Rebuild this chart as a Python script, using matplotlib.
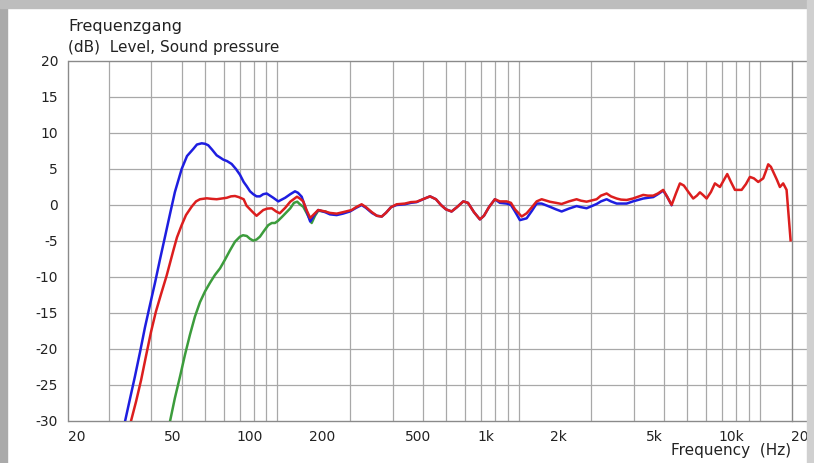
import matplotlib
matplotlib.use("Agg")
import matplotlib.pyplot as plt
from matplotlib.patches import Rectangle
from matplotlib.ticker import NullLocator

# Frequency response data (Hz, dB)
red_freq = [36.5, 38.3, 40.2, 42.1, 44.2, 46.3, 48.6, 51.3, 53.0, 54.7,
            56.6, 59.2, 61.7, 65.1, 67.9, 70.5, 75.2, 79.1, 82.7,
            87.0, 91.0, 94.8, 98.5, 102, 107, 110, 116, 121, 125,
            129, 134, 140, 146, 151, 159, 167, 178, 183, 189,
            195, 202, 209, 218, 233, 244, 260, 276, 300, 313,
            330, 344, 364, 382, 400, 416, 437, 461, 499, 528,
            558, 593, 634, 671, 704, 738, 779, 820, 871, 911,
            965, 1021, 1061, 1113, 1178, 1236, 1318, 1373, 1427, 1521,
            1595, 1678, 1755, 1841, 1992, 2110, 2228, 2388, 2570, 2678,
            2828, 2946, 3112, 3242, 3424, 3568, 3768, 3926, 4146, 4400,
            4854, 5078, 5342, 5586, 5876, 6088, 6368, 6634, 6892, 7158,
            7458, 7824, 8106, 8342, 8586, 8892, 9264, 9626, 10100, 10492,
            10828, 11218, 11654, 12422, 12942, 13446, 13970, 14556, 15268, 15664,
            16014, 16432, 16796, 17398, 17902, 18472, 19082, 19416, 19826]
red_db = [-30, -27.3, -24.3, -21, -17.6, -14.8, -12.4, -9.8, -8.0, -6.3,
          -4.5, -2.8, -1.4, -0.24, 0.5, 0.8, 0.93, 0.85, 0.8,
          0.9, 1.0, 1.2, 1.25, 1.1, 0.8, -0.1, -0.9, -1.5, -1.1,
          -0.7, -0.5, -0.46, -0.9, -1.15, -0.4, 0.46, 1.15, 0.9, 0.5,
          -0.7, -1.8, -1.3, -0.7, -0.9, -1.1, -1.2, -1.0, -0.7, -0.3,
          0.1, -0.3, -1.0, -1.5, -1.6, -1.1, -0.3, 0.1, 0.2, 0.4,
          0.45, 0.8, 1.2, 0.8, 0.0, -0.6, -0.9, -0.3, 0.5, 0.3,
          -1.0, -2.0, -1.5, -0.3, 0.8, 0.5, 0.5, 0.3, -0.6, -1.6,
          -1.15, -0.3, 0.5, 0.8, 0.45, 0.3, 0.14, 0.5, 0.8, 0.6,
          0.46, 0.6, 0.8, 1.3, 1.6, 1.2, 0.9, 0.75, 0.7, 0.9,
          1.4, 1.3, 1.3, 1.6, 2.1, 1.2, 0.0, 1.6, 3.0, 2.7,
          1.85, 0.9, 1.3, 1.76, 1.4, 0.9, 1.8, 3.0, 2.5, 3.5,
          4.3, 3.2, 2.1, 2.1, 2.9, 3.9, 3.7, 3.2, 3.7, 4.7,
          5.65, 5.3, 4.6, 3.5, 2.5, 3.0, 2.1, -1.0, -4.9]

blue_freq = [34.5, 36.1, 37.9, 39.8, 41.7, 43.8, 45.9, 48.1, 50.5, 53.0,
             55.5, 59.2, 62.3, 66.2, 68.5, 71.7, 74.0, 76.3, 79.1, 82.7,
             85.4, 88.1, 91.3, 95.4, 99.4, 103.3, 107, 110.2, 113.7, 117.3,
             121, 125, 129, 133.3, 137.6, 142, 148.9, 159, 167, 174.7,
             179.7, 186.2, 194, 202, 209, 218, 233, 244, 260, 276,
             295, 313, 330, 344, 364, 382, 400, 416, 437, 461,
             499, 528, 558, 593, 634, 671, 704, 738, 779, 820,
             871, 911, 965, 1021, 1061, 1113, 1178, 1236, 1318, 1373,
             1427, 1496, 1595, 1678, 1755, 1841, 1992, 2110, 2228, 2388,
             2570, 2678, 2828, 2946, 3112, 3242, 3424, 3568, 3768, 3926,
             4146, 4400, 4854, 5078, 5342, 5586, 5876, 6088, 6368]
blue_db = [-30, -27, -23.8, -20.4, -17, -13.8, -10.8, -7.6, -4.4, -1.2,
           1.8, 5.0, 6.8, 7.8, 8.4, 8.57, 8.5, 8.3, 7.7, 6.9,
           6.6, 6.3, 6.1, 5.7, 5.0, 4.2, 3.2, 2.6, 1.9, 1.5,
           1.2, 1.2, 1.5, 1.6, 1.3, 1.0, 0.5, 1.0, 1.5, 1.9,
           1.7, 1.15, -0.6, -2.3, -1.5, -0.7, -1.0, -1.3, -1.4, -1.2,
           -0.9, -0.4, 0.0, -0.4, -1.1, -1.5, -1.6, -1.1, -0.3, 0.0,
           0.1, 0.3, 0.4, 0.8, 1.2, 0.8, 0.0, -0.6, -0.9, -0.3,
           0.5, 0.3, -1.0, -2.0, -1.5, -0.3, 0.8, 0.3, 0.2, 0.0,
           -0.9, -2.1, -1.85, -0.8, 0.2, 0.2, -0.25, -0.6, -0.9, -0.5,
           -0.15, -0.3, -0.45, -0.2, 0.14, 0.5, 0.8, 0.5, 0.2, 0.2,
           0.2, 0.5, 0.9, 1.0, 1.1, 1.5, 2.0, 1.2, 0.0]

green_freq = [53.0, 55.5, 58.3, 61.1, 64.1, 67.2, 70.5, 74.0, 77.6, 81.4,
              85.4, 89.5, 93.9, 98.5, 103.3, 106.3, 110.2, 113.7,
              117.3, 121, 125, 129.9, 135.3, 140, 144.3, 148.5, 153.8, 159,
              167, 173, 178.5, 183, 189, 195.8, 204.8, 211.4, 218, 233]
green_db = [-30, -26.8, -23.8, -20.8, -18, -15.5, -13.5, -12, -10.8, -9.7,
            -8.8, -7.6, -6.3, -5.1, -4.4, -4.2, -4.3, -4.7,
            -4.95, -4.8, -4.4, -3.6, -2.8, -2.5, -2.5, -2.2, -1.7, -1.2,
            -0.46, 0.3, 0.46, 0.1, -0.24, -1.2, -2.5, -1.5, -0.8, -0.9]

xtick_vals = [20, 50, 100, 200, 500, 1000, 2000, 5000, 10000, 20000]
xtick_labels = ["20", "50", "100", "200", "500", "1k", "2k", "5k", "10k", "20k"]
ytick_vals = [20, 15, 10, 5, 0, -5, -10, -15, -20, -25, -30]

# the grid of the original program is offset from its labels
grid_base = [20, 30, 40, 50, 60, 70, 80, 90, 100,
             200, 300, 400, 500, 600, 700, 800, 900, 1000,
             2000, 3000, 4000, 5000, 6000, 7000, 8000, 9000, 10000]
grid_shift = 1.478

W, H = 814, 463
fig = plt.figure(figsize=(W / 100, H / 100), dpi=100)
ax = fig.add_axes([68 / W, 1 - 421 / H, (791.5 - 68) / W, 360 / H])
ax.set_xscale("log")
ax.set_xlim(20, 20000)
ax.set_ylim(-30, 20)

grid_col = "#a8a8a8"
for f in grid_base:
    ax.axvline(f * grid_shift, color=grid_col, lw=0.9, zorder=1)
ax.hlines(ytick_vals[1:-1], 41 / 723.5, 1.03, transform=ax.get_yaxis_transform(),
          colors=grid_col, lw=0.9, clip_on=False, zorder=1)
ax.hlines([20, -30], 0, 1.03, transform=ax.get_yaxis_transform(),
          colors="#8a8a8a", lw=1.0, clip_on=False, zorder=1)

for s in ["top", "bottom"]:
    ax.spines[s].set_visible(False)
for s in ["left", "right"]:
    ax.spines[s].set_color("#8a8a8a")
    ax.spines[s].set_linewidth(1.0)

ax.plot(green_freq, green_db, color="#3c9c3c", lw=1.8, zorder=3)
ax.plot(blue_freq, blue_db, color="#1e1ee0", lw=1.8, zorder=4)
ax.plot(red_freq, red_db, color="#dc1e1e", lw=1.8, zorder=5)

ax.xaxis.set_minor_locator(NullLocator())
ax.set_xticks(xtick_vals)
ax.set_xticklabels(xtick_labels, ha="left")
ax.set_yticks(ytick_vals)
ax.set_yticklabels([str(v) for v in ytick_vals])
ax.tick_params(axis="x", length=0, pad=6.5, labelsize=10, labelcolor="#222222")
ax.tick_params(axis="y", length=0, pad=7.2, labelsize=10, labelcolor="#222222")

fig.text(68 / W, 1 - 31.5 / H, "Frequenzgang", fontsize=11.5, color="#222222", va="baseline")
fig.text(68 / W, 1 - 52 / H, "(dB)  Level, Sound pressure", fontsize=11,
         color="#222222", va="baseline")
fig.text(791.5 / W, 1 - 451 / H, "Frequency  (Hz)", fontsize=11, color="#222222",
         ha="right", va="center")

# grey window frame
fig.add_artist(Rectangle((0, 0), 7 / W, 1, transform=fig.transFigure,
                         color="#aaaaaa", zorder=10))
fig.add_artist(Rectangle((0, 1 - 8 / H), 1, 8 / H, transform=fig.transFigure,
                         color="#bdbdbd", zorder=10))
fig.add_artist(Rectangle((807 / W, 0), 7 / W, 1, transform=fig.transFigure,
                         color="#d0d0d0", zorder=10))

fig.savefig("out.png", dpi=100)
